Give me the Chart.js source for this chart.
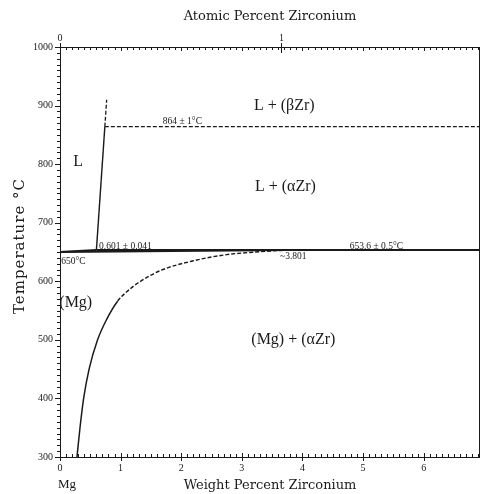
<!DOCTYPE html>
<html>
<head>
<meta charset="utf-8">
<script src="https://cdn.jsdelivr.net/npm/chart.js@4/dist/chart.umd.min.js"></script>
<style>
  html, body { margin: 0; padding: 0; background: #fff; }
  #wrap { width: 482px; height: 494px; }
</style>
</head>
<body>
<div id="wrap"><canvas id="chart" width="482" height="494"></canvas></div>
<script>
// Mg-Zr phase diagram, Mg-rich corner (0 - 7 wt% Zr)
const wtMax = 6.93;
const wtTicks = [0, 1, 2, 3, 4, 5, 6];
const atTicks = [0, 1];
const tempTicks = [300, 400, 500, 600, 700, 800, 900, 1000];
const wtMinorStep = 0.1;
const tempMinorStep = 10;

// phase boundaries as [wt% Zr, temperature °C]
const liquidus = [[0.601, 653.6], [0.74, 864]];
const liquidusAbove = [[0.74, 864], [0.77, 910]];
const peritecticHigh = [[0.74, 864], [wtMax, 864]];
const meltLiquidus = [[0, 650], [0.601, 653.6]];
const solidus = [[0, 650], [3.801, 653.6]];
const peritecticLow = [[0.601, 653.6], [wtMax, 653.6]];
// (Mg) solvus; measured up to ~565 °C, estimated (dashed) beyond
const solvus = [
  [0.28, 300], [0.33, 350], [0.39, 400], [0.48, 450], [0.62, 500],
  [0.77, 535], [0.95, 566], [1.1, 582], [1.3, 598], [1.65, 618],
  [2.2, 635], [2.75, 645.5], [3.3, 650.5], [3.62, 652.6], [3.801, 653.6]
];
const solvusDashFrom = 6; // index of the last measured point

// field names and invariant notes: [text, wt%, °C]
const fieldLabels = [
  ['L', 0.30, 804],
  ['L + (βZr)', 3.70, 899],
  ['L + (αZr)', 3.72, 761],
  ['(Mg)', 0.26, 563],
  ['(Mg) + (αZr)', 3.85, 500]
];
const notes = [
  ['864 ± 1°C', 2.02, 872],
  ['0.601 ± 0.041', 1.08, 659.4],
  ['653.6 ± 0.5°C', 5.22, 659.4],
  ['650°C', 0.22, 633],
  ['~3.801', 3.85, 643]
];

const ink = '#1a1a1a';

// atomic % Zr -> weight % Zr
function atToWt(a) {
  const zr = a * 91.224, mg = (100 - a) * 24.305;
  return 100 * zr / (zr + mg);
}

const toPts = arr => arr.map(([x, y]) => ({ x, y }));
function boundary(data, width, dash) {
  return {
    data: toPts(data),
    showLine: true,
    borderColor: ink,
    borderWidth: width,
    borderDash: dash || [],
    pointRadius: 0,
    fill: false,
    cubicInterpolationMode: 'monotone'
  };
}

const solvusSet = boundary(solvus, 1.5);
solvusSet.segment = {
  borderDash: c => (c.p0DataIndex >= solvusDashFrom ? [4, 2] : undefined),
  borderWidth: c => (c.p0DataIndex >= solvusDashFrom ? 1.4 : undefined)
};

const frame = {
  id: 'frame',
  afterDatasetsDraw(chart) {
    const { ctx, chartArea: a, scales: { x, y } } = chart;
    ctx.save();
    ctx.strokeStyle = ink;
    ctx.lineWidth = 1;
    ctx.strokeRect(a.left + 0.5, a.top + 0.5, a.right - a.left - 1, a.bottom - a.top);
    ctx.beginPath();
    // wt% ticks on bottom (up) and top (down) edges
    const nWt = Math.floor(wtMax / wtMinorStep + 1e-6);
    for (let i = 0; i <= nWt; i++) {
      const px = Math.round(x.getPixelForValue(i * wtMinorStep)) + 0.5;
      const major = i % 10 === 0;
      ctx.moveTo(px, a.bottom + (major ? 4 : 0));
      ctx.lineTo(px, a.bottom - (major ? 4 : 3));
      ctx.moveTo(px, a.top);
      ctx.lineTo(px, a.top + (major ? 4 : 3));
    }
    // atomic % majors on top edge
    atTicks.forEach(v => {
      const px = Math.round(x.getPixelForValue(atToWt(v))) + 0.5;
      ctx.moveTo(px, a.top - 4);
      ctx.lineTo(px, a.top + 6);
    });
    // temperature ticks on left edge (outward)
    const t0 = tempTicks[0], t1 = tempTicks[tempTicks.length - 1];
    for (let t = t0; t <= t1; t += tempMinorStep) {
      const py = Math.round(y.getPixelForValue(t)) + 0.5;
      const major = t % 100 === 0;
      ctx.moveTo(a.left - (major ? 5 : 3), py);
      ctx.lineTo(a.left + (major ? 1 : 0), py);
    }
    ctx.stroke();

    // region names and notes
    ctx.fillStyle = ink;
    ctx.textAlign = 'center';
    ctx.textBaseline = 'middle';
    ctx.font = '16px "Liberation Serif"';
    fieldLabels.forEach(([txt, w, t]) => {
      ctx.fillText(txt, x.getPixelForValue(w), y.getPixelForValue(t));
    });
    ctx.font = '9.5px "Liberation Serif"';
    notes.forEach(([txt, w, t]) => {
      ctx.fillText(txt, x.getPixelForValue(w), y.getPixelForValue(t));
    });
    // pure Mg end of the composition axis
    ctx.textAlign = 'left';
    ctx.font = '13px "Liberation Serif"';
    ctx.fillText('Mg', x.getPixelForValue(0) - 2, 485);

    // temperature axis title, spaced out
    ctx.translate(20, (a.top + a.bottom) / 2 - 6);
    ctx.rotate(-Math.PI / 2);
    ctx.textAlign = 'center';
    ctx.font = '15px "DejaVu Serif"';
    ctx.letterSpacing = '1px';
    ctx.fillText('Temperature °C', 0, 0);
    ctx.restore();
  }
};

const tickFont = { family: 'Liberation Serif', size: 10 };
const titleFont = { family: 'DejaVu Serif', size: 13 };

new Chart(document.getElementById('chart'), {
  type: 'scatter',
  data: {
    datasets: [
      boundary(meltLiquidus, 2),
      boundary(solidus, 2),
      boundary(peritecticLow, 2),
      boundary(liquidus, 1.4),
      boundary(liquidusAbove, 1.3, [4, 2]),
      boundary(peritecticHigh, 1.3, [4, 2]),
      solvusSet
    ]
  },
  options: {
    responsive: false,
    animation: false,
    layout: { padding: { left: 0, right: 2, top: 0, bottom: 0 } },
    plugins: { legend: { display: false }, tooltip: { enabled: false } },
    scales: {
      x: {
        type: 'linear', position: 'bottom', min: 0, max: wtMax,
        afterBuildTicks: s => { s.ticks = wtTicks.map(v => ({ value: v })); },
        afterFit: s => { s.height = 37; },
        grid: { display: false, drawTicks: false },
        border: { display: false },
        ticks: { autoSkip: false, maxRotation: 0, padding: 5, color: ink, font: tickFont, callback: v => String(v) },
        title: { display: true, text: 'Weight Percent Zirconium', color: ink, font: titleFont, padding: { top: 0, bottom: 1 } }
      },
      x2: {
        type: 'linear', position: 'top', min: 0, max: wtMax,
        afterBuildTicks: s => { s.ticks = atTicks.map(v => ({ value: atToWt(v) })); },
        afterFit: s => { s.height = 47; },
        grid: { display: false, drawTicks: false },
        border: { display: false },
        ticks: {
          autoSkip: false, maxRotation: 0, padding: 3, color: ink, font: tickFont,
          callback: (v, i) => String(atTicks[i])
        },
        title: { display: true, text: 'Atomic Percent Zirconium', color: ink, font: titleFont, padding: { top: 9, bottom: 0 } }
      },
      y: {
        type: 'linear', position: 'left', min: 300, max: 1000,
        afterBuildTicks: s => { s.ticks = tempTicks.map(v => ({ value: v })); },
        afterFit: s => { s.width = 60; },
        grid: { display: false, drawTicks: false },
        border: { display: false },
        ticks: { autoSkip: false, padding: 7, color: ink, font: tickFont, callback: v => String(v) }
      }
    }
  },
  plugins: [frame]
});
</script>
</body>
</html>
